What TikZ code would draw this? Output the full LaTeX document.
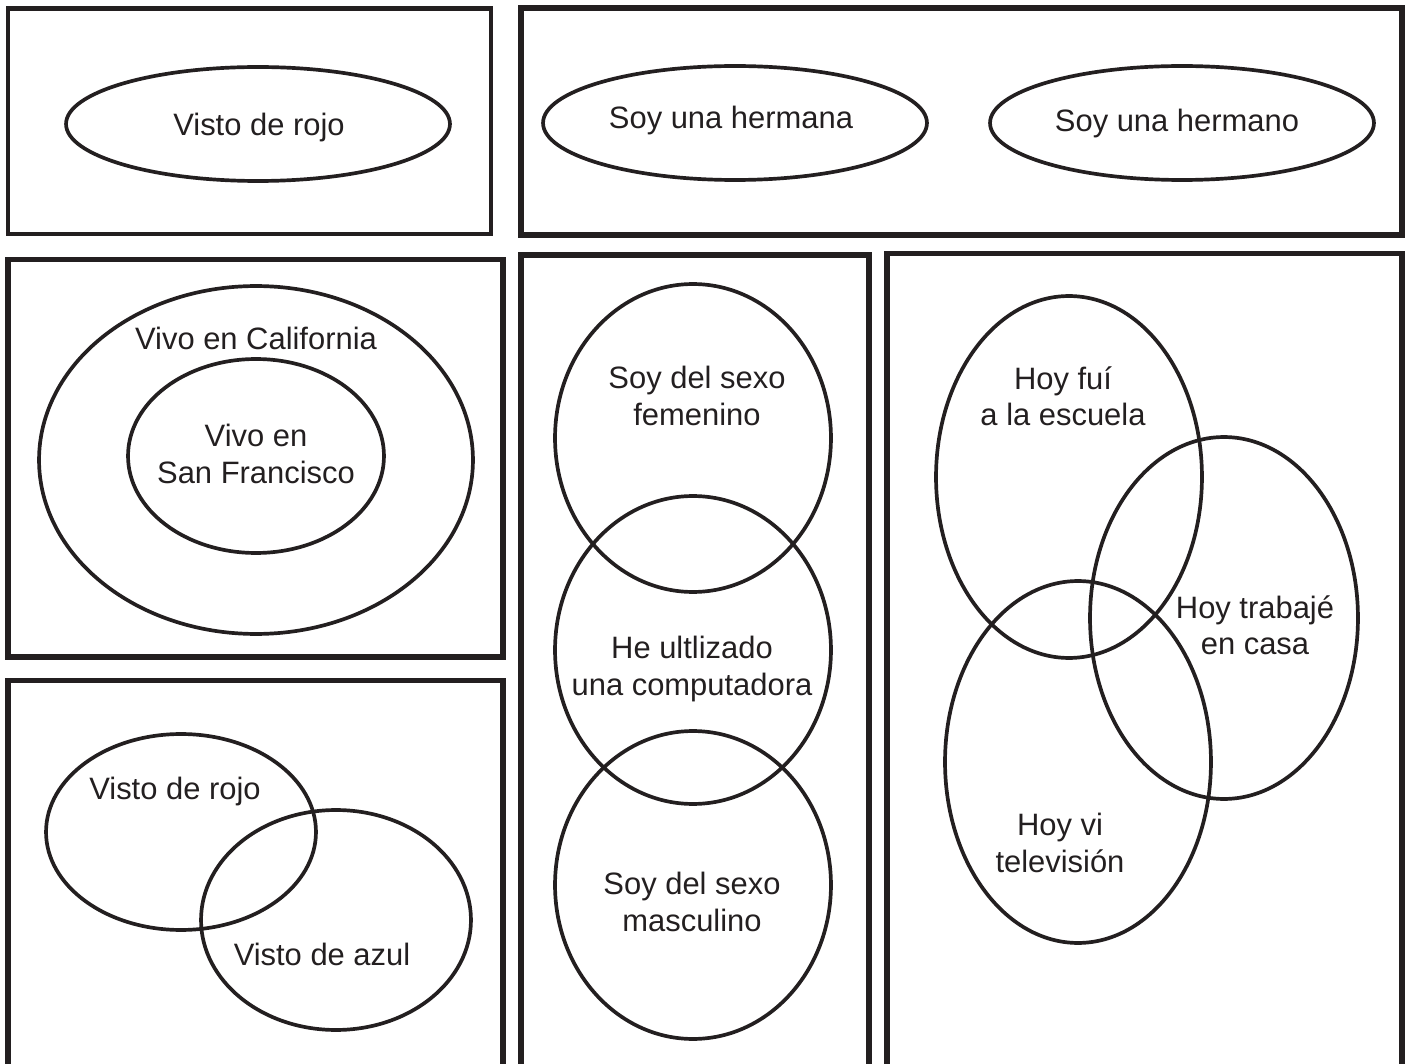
\documentclass[tikz,border=0pt]{standalone}
\usepackage{fontspec}
\setmainfont{Liberation Sans}
\usetikzlibrary{shapes.geometric}

\begin{document}
\begin{tikzpicture}[x=0.02cm,y=-0.02cm]
\definecolor{encre}{HTML}{231F20}
\tikzstyle{cadre}=[draw=encre,line width=3.4pt]
\tikzstyle{cadrefin}=[draw=encre,line width=2.3pt]
\tikzstyle{bulle}=[draw=encre,line width=2.1pt,ellipse,inner sep=0pt]
\tikzstyle{texte}=[text=encre,align=center,inner sep=0pt,font=\fontsize{17.6}{20.7}\selectfont]
\def\Bas{1080}
\useasboundingbox (0,0) rectangle (1411,1064);
\clip (0,0) rectangle (1411,1064);
% cadres
\draw[cadrefin] (8,8.5) rectangle (491,234);
\draw[cadre] (521,8) rectangle (1402,235);
\draw[cadre] (8,259.5) rectangle (503,657);
\draw[cadre] (8,680.5) rectangle (503,\Bas);
\draw[cadre] (521,255) rectangle (869,\Bas);
\draw[cadre] (887,253.5) rectangle (1402,\Bas);
% haut
\node[bulle,minimum width=7.68cm,minimum height=2.28cm] (Rouge) at (258,124) {};
\node[texte] (tRouge) at (259,128) {Visto de rojo};
\node[bulle,minimum width=7.68cm,minimum height=2.28cm] (Soeur) at (735,123) {};
\node[texte] (tSoeur) at (731,121) {Soy una hermana};
\node[bulle,minimum width=7.68cm,minimum height=2.28cm] (Frere) at (1182,123) {};
\node[texte] (tFrere) at (1177,124) {Soy una hermano};
% californie
\node[bulle,minimum width=8.68cm,minimum height=6.96cm] (Cal) at (256,460) {};
\node[texte] (tCal) at (256,338) {Vivo en California};
\node[bulle,minimum width=5.12cm,minimum height=3.88cm] (SF) at (256,456) {};
\node[texte] (tSF) at (256,454) {Vivo en\\San Francisco};
% rouge et bleu
\node[bulle,minimum width=5.40cm,minimum height=3.92cm] (Ra) at (181,832) {};
\node[texte] (tRa) at (175,792) {Visto de rojo};
\node[bulle,minimum width=5.40cm,minimum height=4.40cm] (Rb) at (336,920) {};
\node[texte] (tRb) at (322,954) {Visto de azul};
% colonne du milieu
\node[bulle,minimum width=5.52cm,minimum height=6.16cm] (Fem) at (693,438) {};
\node[texte] (tFem) at (697,396) {Soy del sexo\\femenino};
\node[bulle,minimum width=5.52cm,minimum height=6.16cm] (Ordi) at (693,650) {};
\node[texte] (tOrdi) at (692,669) {He ultlizado\\una computadora};
\node[bulle,minimum width=5.52cm,minimum height=6.16cm] (Masc) at (693,885) {};
\node[texte] (tMasc) at (692,902) {Soy del sexo\\masculino};
% aujourd'hui
\node[bulle,minimum width=5.32cm,minimum height=7.24cm] (Ecole) at (1069,477) {};
\node[texte] (tEcole) at (1063,396) {Hoy fuí\\a la escuela};
\node[bulle,minimum width=5.36cm,minimum height=7.24cm] (Casa) at (1224,618) {};
\node[texte] (tCasa) at (1255,625) {Hoy trabajé\\en casa};
\node[bulle,minimum width=5.32cm,minimum height=7.24cm] (Tele) at (1078,762) {};
\node[texte] (tTele) at (1060,843) {Hoy vi\\televisión};
\end{tikzpicture}
\end{document}
